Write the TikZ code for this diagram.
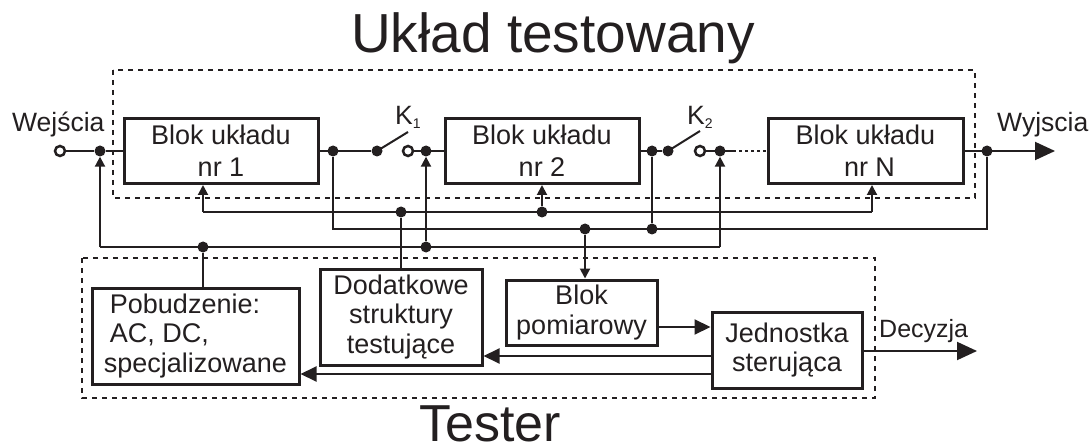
\documentclass[tikz,border=0pt]{standalone}
\usepackage{fontspec}
\setmainfont{Liberation Sans}
\usetikzlibrary{arrows.meta}
\definecolor{ink}{RGB}{35,31,32}
\begin{document}
\begin{tikzpicture}[x=1pt,y=-1pt,
 blk/.style={draw=ink, line width=3pt, inner sep=0pt, align=center, text=ink, font=\fontsize{27pt}{32pt}\selectfont},
 tbox/.style={blk, font=\fontsize{27pt}{29.5pt}\selectfont},
 wire/.style={draw=ink, line width=2pt},
 dot/.style={circle, fill=ink, inner sep=0pt, minimum size=11pt},
 odot/.style={circle, draw=ink, line width=2.5pt, fill=white, inner sep=0pt, minimum size=10pt},
 sarr/.style={wire, -{Triangle[length=10pt,width=10pt]}},
 barr/.style={wire, -{Triangle[length=16pt,width=15pt]}},
 oarr/.style={wire, -{Triangle[length=20pt,width=18pt]}},
 dbox/.style={draw=ink, line width=2pt, dash pattern=on 5pt off 5pt},
 lbl/.style={text=ink, inner sep=0pt, font=\fontsize{26.5pt}{31pt}\selectfont},
]
\useasboundingbox[fill=white] (0,0) rectangle (1091,446);

% dashed boxes
\draw[dbox] (113,70) rectangle (975,198);
\draw[dbox] (82,258) rectangle (875,398);

% blocks
\node[blk, minimum width=194pt, minimum height=65pt] (b1) at (221,151) {Blok układu\\nr 1};
\node[blk, minimum width=194pt, minimum height=65pt] (b2) at (542,151) {Blok układu\\nr 2};
\node[blk, minimum width=195pt, minimum height=65pt] (bN) at (865.5,151) {Blok układu\\\hspace*{8pt}nr N};

\node[tbox, minimum width=207pt, minimum height=96pt, align=left] (pob) at (195.5,336) {\hspace*{6pt}Pobudzenie:\\\hspace*{6pt}AC, DC,\\specjalizowane};
\node[tbox, minimum width=162pt, minimum height=96pt] (dod) at (401,317) {Dodatkowe\\struktury\\testujące};
\node[tbox, minimum width=151pt, minimum height=65pt] (pom) at (581.5,312.5) {Blok\\pomiarowy};
\node[tbox, minimum width=150pt, minimum height=76pt] (jed) at (787,350) {Jednostka\\sterująca};

% signal path points
\node[dot] (d1) at (100,151) {};
\node[dot] (d2) at (333,151) {};
\node[dot] (s1a) at (377,151) {};
\node[dot] (d3) at (426,151) {};
\node[dot] (d4) at (652,151) {};
\node[dot] (s2a) at (668,151) {};
\node[dot] (d5) at (720,151) {};
\coordinate (dd) at (733,151);
\node[dot] (d6) at (987,151) {};
\coordinate (out) at (1055,151);

% bus lines
\coordinate (a1) at (203,212);
\node[dot] (a2) at (401,212) {};
\node[dot] (a3) at (542,212) {};
\coordinate (a4) at (872,212);
\node[dot] (bb2) at (585,229) {};
\node[dot] (bb3) at (652,229) {};
\coordinate (bb4) at (987,229);
\coordinate (c0) at (100,247);
\node[dot] (c1) at (203,247) {};
\node[dot] (c2) at (426,247) {};
\coordinate (c3) at (720,247);

\coordinate (y1) at (0,327);
\coordinate (y2) at (0,356);
\coordinate (y3) at (0,374);
\coordinate (y4) at (0,351);
\coordinate (dec) at (977,351);

% signal path
\draw[wire] (60,151) -- (d1) -- (b1.west);
\draw[wire] (b1.east) -- (s1a);
\draw[wire] (s1a.center) -- ++(31,-19);
\draw[wire] (408,151) -- (b2.west);
\draw[wire] (b2.east) -- (s2a);
\draw[wire] (s2a.center) -- ++(32,-20);
\draw[wire] (700,151) -- (dd);
\draw[wire, dash pattern=on 3pt off 3pt] (dd) -- (bN.west);
\draw[oarr] (bN.east) -- (out);

\node[odot] (in) at (60,151) {};
\node[odot] (s1b) at (408,151) {};
\node[odot] (s2b) at (700,151) {};

% line A
\draw[wire] (a1) -- (a4);
\draw[sarr] (a1) -- (a1 |- b1.south);
\draw[sarr] (a3) -- (b2.south);
\draw[sarr] (a4) -- (a4 |- bN.south);
\draw[wire] (dod.north) -- (a2);

% line B
\draw[wire] (d2) |- (bb4) -- (d6);
\draw[wire] (d4) -- (bb3);
\draw[sarr] (bb2) -- (bb2 |- pom.north);

% line C
\draw[wire] (c0) -- (c3);
\draw[sarr] (c0) -- (d1);
\draw[sarr] (c2) -- (d3);
\draw[sarr] (c3) -- (d5);
\draw[wire] (c1) -- (c1 |- pob.north);

% tester arrows
\draw[barr] (pom.east |- y1) -- (jed.west |- y1);
\draw[barr] (jed.west |- y2) -- (dod.east |- y2);
\draw[barr] (jed.west |- y3) -- (pob.east |- y3);
\draw[oarr] (jed.east |- y4) -- (dec);

% labels
\node[lbl, anchor=base west] (lwe) at (12,132) {Wejścia};
\node[lbl, anchor=base west] (lwy) at (997,132) {Wyjscia};
\node[lbl, anchor=base west] (lk1) at (395,125) {K\raisebox{-4pt}{\fontsize{14pt}{14pt}\selectfont 1}};
\node[lbl, anchor=base west] (lk2) at (687,125) {K\raisebox{-4pt}{\fontsize{14pt}{14pt}\selectfont 2}};
\node[lbl, anchor=base west, font=\fontsize{25pt}{30pt}\selectfont] (ldec) at (879,337) {Decyzja};
\node[text=ink, inner sep=0pt, anchor=base, font=\fontsize{55pt}{60pt}\selectfont] (ttop) at (553,53) {Układ testowany};
\node[text=ink, inner sep=0pt, anchor=base, font=\fontsize{52pt}{56pt}\selectfont] (tbot) at (490,441) {Tester};
\end{tikzpicture}
\end{document}
